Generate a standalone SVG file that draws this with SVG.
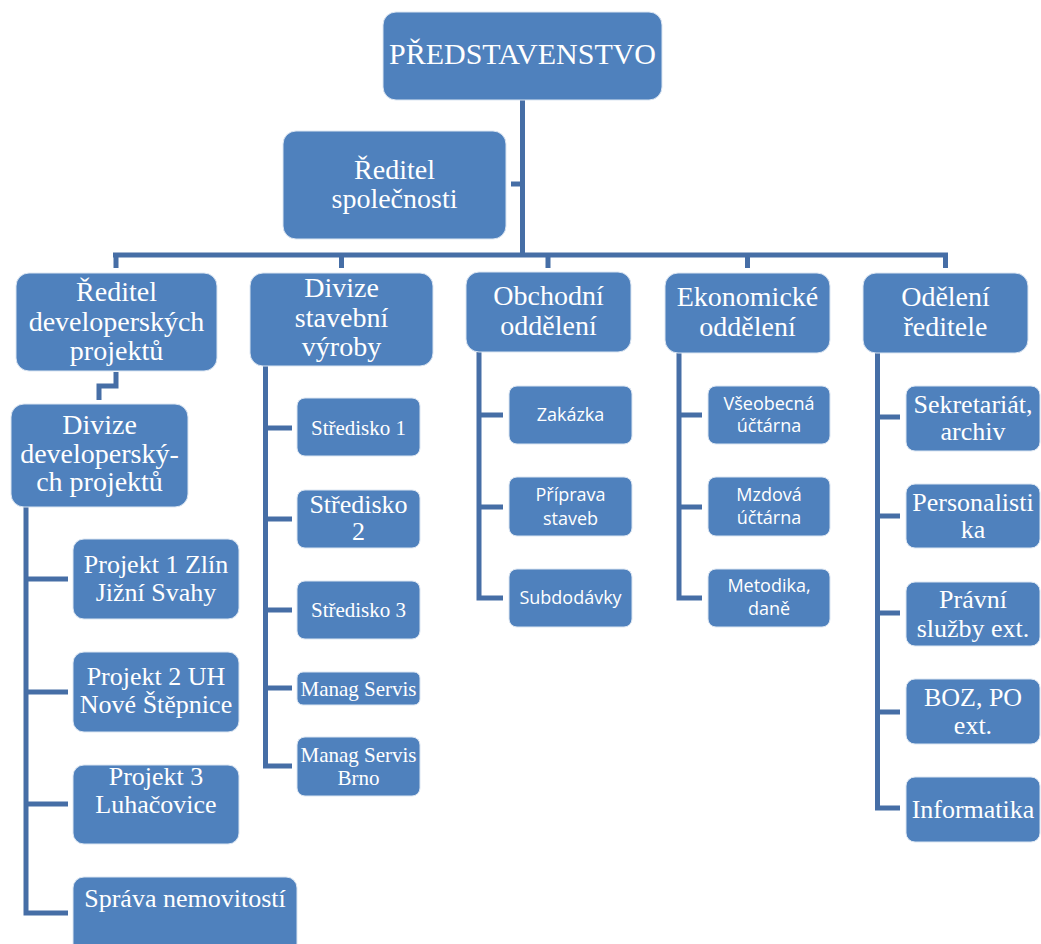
<svg xmlns="http://www.w3.org/2000/svg" width="1041" height="944" viewBox="0 0 1041 944">
<style>
.box{fill:#4F81BD;stroke:#dce6f2;stroke-width:1}
.ln{fill:none;stroke:#466EA6;stroke-width:5}
text{fill:#ffffff;text-anchor:middle}
.top{font-family:"Liberation Serif",serif;font-size:30px}
.s28{font-family:"Liberation Serif",serif;font-size:28px}
.s26{font-family:"Liberation Serif",serif;font-size:26px}
.s25{font-family:"Liberation Serif",serif;font-size:25px}
.s21{font-family:"Liberation Serif",serif;font-size:21px}
.s20{font-family:"Liberation Serif",serif;font-size:20px}
.sans{font-family:"Open Sans","Noto Sans",sans-serif;font-size:18px}
</style>
<rect width="1041" height="944" fill="#ffffff"/>
<g id="connectors">
<path class="ln" d="M522.5,100 V255 M511,184 H522.5 M113,255 H948 M116,255 V268 M341.5,255 V268 M548,255 V268 M747.5,255 V268 M945.5,255 V268"/>
<path class="ln" d="M116,372 V386 H99 V400"/>
<path class="ln" d="M26,507 V913 H68 M26,579 H68 M26,692 H68 M26,804 H68"/>
<path class="ln" d="M265.5,366 V766 H292 M265.5,428 H292 M265.5,519 H292 M265.5,610 H292 M265.5,688 H292"/>
<path class="ln" d="M479,352 V598 H503 M479,415 H503 M479,507 H503"/>
<path class="ln" d="M679,353 V598 H702 M679,415 H702 M679,507 H702"/>
<path class="ln" d="M877.5,353 V808 H900 M877.5,417 H900 M877.5,516 H900 M877.5,613 H900 M877.5,712 H900"/>
</g>
<g id="predstavenstvo"><rect class="box" x="383" y="12" width="279" height="88" rx="13"/><text class="top" x="522.5" y="64">PŘEDSTAVENSTVO</text></g>
<g id="reditel-spolecnosti"><rect class="box" x="283" y="131" width="223" height="108" rx="13"/><text class="s28" x="394.5" y="179">Ředitel</text><text class="s28" x="394.5" y="208">společnosti</text></g>
<g id="reditel-dev"><rect class="box" x="16" y="273" width="201" height="98" rx="13"/><text class="s28" x="116.5" y="301">Ředitel</text><text class="s28" x="116.5" y="331">developerských</text><text class="s28" x="116.5" y="360">projektů</text></g>
<g id="divize-stavebni"><rect class="box" x="250" y="273" width="183" height="93" rx="13"/><text class="s28" x="341.5" y="297">Divize</text><text class="s28" x="341.5" y="327">stavební</text><text class="s28" x="341.5" y="356">výroby</text></g>
<g id="obchodni"><rect class="box" x="466" y="272" width="165" height="80" rx="13"/><text class="s28" x="548.5" y="305">Obchodní</text><text class="s28" x="548.5" y="335">oddělení</text></g>
<g id="ekonomicke"><rect class="box" x="665" y="273" width="165" height="80" rx="13"/><text class="s28" x="747.5" y="306">Ekonomické</text><text class="s28" x="747.5" y="336">oddělení</text></g>
<g id="odeleni-reditele"><rect class="box" x="863" y="273" width="165" height="80" rx="13"/><text class="s28" x="945.5" y="306">Odělení</text><text class="s28" x="945.5" y="336">ředitele</text></g>
<g id="divize-dev"><rect class="box" x="11" y="404" width="177" height="103" rx="13"/><text class="s28" x="99.5" y="434">Divize</text><text class="s28" x="99.5" y="463">developerský-</text><text class="s28" x="99.5" y="491">ch projektů</text></g>
<g id="projekt1"><rect class="box" x="73" y="539" width="166" height="80" rx="11"/><text class="s26" x="156" y="573">Projekt 1 Zlín</text><text class="s26" x="156" y="601">Jižní Svahy</text></g>
<g id="projekt2"><rect class="box" x="73" y="652" width="166" height="80" rx="11"/><text class="s26" x="156" y="685">Projekt 2 UH</text><text class="s26" x="156" y="713">Nové Štěpnice</text></g>
<g id="projekt3"><rect class="box" x="73" y="765" width="166" height="79" rx="11"/><text class="s26" x="156" y="785">Projekt 3</text><text class="s26" x="156" y="813">Luhačovice</text></g>
<g id="sprava"><rect class="box" x="73" y="877" width="224" height="80" rx="11"/><text class="s26" x="185" y="907">Správa nemovitostí</text></g>
<g id="stredisko1"><rect class="box" x="297" y="398" width="123" height="58" rx="8"/><text class="s21" x="358.5" y="435">Středisko 1</text></g>
<g id="stredisko2"><rect class="box" x="297" y="490" width="123" height="58" rx="8"/><text class="s26" x="358.5" y="513">Středisko</text><text class="s26" x="358.5" y="540">2</text></g>
<g id="stredisko3"><rect class="box" x="297" y="581" width="123" height="58" rx="8"/><text class="s21" x="358.5" y="617">Středisko 3</text></g>
<g id="manag-servis"><rect class="box" x="297" y="672" width="123" height="33" rx="6"/><text class="s21" x="358.5" y="696">Manag Servis</text></g>
<g id="manag-servis-brno"><rect class="box" x="297" y="737" width="123" height="59" rx="8"/><text class="s21" x="358.5" y="762">Manag Servis</text><text class="s21" x="358.5" y="785">Brno</text></g>
<g id="zakazka"><rect class="box" x="509" y="386" width="123" height="58" rx="8"/><text class="sans" x="570.5" y="421">Zakázka</text></g>
<g id="priprava"><rect class="box" x="509" y="477" width="123" height="59" rx="8"/><text class="sans" x="570.5" y="501">Příprava</text><text class="sans" x="570.5" y="525">staveb</text></g>
<g id="subdodavky"><rect class="box" x="509" y="569" width="123" height="58" rx="8"/><text class="sans" x="570.5" y="604">Subdodávky</text></g>
<g id="vseobecna"><rect class="box" x="708" y="386" width="122" height="58" rx="8"/><text class="sans" x="769" y="410">Všeobecná</text><text class="sans" x="769" y="432">účtárna</text></g>
<g id="mzdova"><rect class="box" x="708" y="477" width="122" height="59" rx="8"/><text class="sans" x="769" y="501">Mzdová</text><text class="sans" x="769" y="524">účtárna</text></g>
<g id="metodika"><rect class="box" x="708" y="569" width="122" height="58" rx="8"/><text class="sans" x="769" y="592">Metodika,</text><text class="sans" x="769" y="615">daně</text></g>
<g id="sekretariat"><rect class="box" x="906" y="386" width="134" height="65" rx="9"/><text class="s26" x="973" y="413">Sekretariát,</text><text class="s26" x="973" y="440">archiv</text></g>
<g id="personalistika"><rect class="box" x="906" y="484" width="134" height="64" rx="9"/><text class="s26" x="973" y="511">Personalisti</text><text class="s26" x="973" y="538">ka</text></g>
<g id="pravni"><rect class="box" x="906" y="582" width="134" height="64" rx="9"/><text class="s26" x="973" y="608">Právní</text><text class="s26" x="973" y="637">služby ext.</text></g>
<g id="boz"><rect class="box" x="906" y="679" width="134" height="65" rx="9"/><text class="s26" x="973" y="706">BOZ, PO</text><text class="s26" x="973" y="734">ext.</text></g>
<g id="informatika"><rect class="box" x="906" y="777" width="134" height="65" rx="9"/><text class="s26" x="973" y="818">Informatika</text></g>
</svg>
